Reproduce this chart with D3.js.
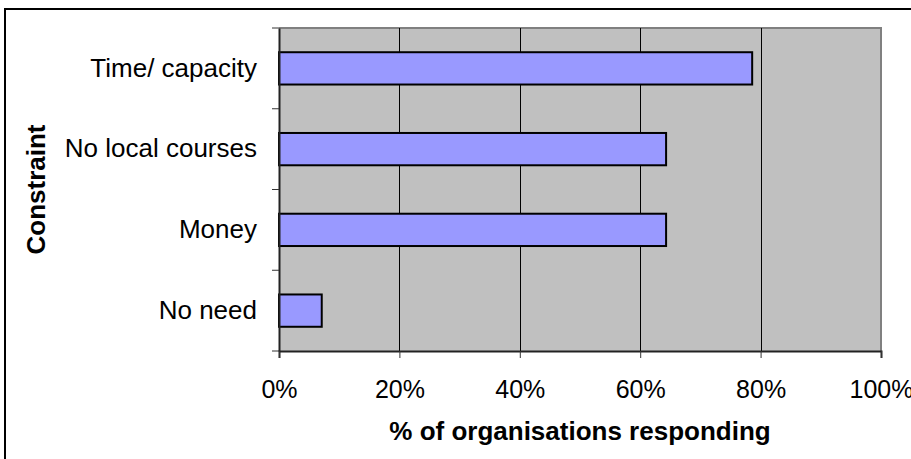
<!DOCTYPE html>
<html><head><meta charset="utf-8">
<script src="https://cdn.jsdelivr.net/npm/d3@7"></script>
<style>html,body{margin:0;padding:0;background:#fff;}svg{display:block;font-family:"Liberation Sans",Arial,sans-serif;}</style>
</head><body>
<script>
const categories = ["Time/ capacity", "No local courses", "Money", "No need"];
const values = [0.786, 0.643, 0.643, 0.071];
const xTicks = [0, 0.2, 0.4, 0.6, 0.8, 1.0];
const xTitle = "% of organisations responding";
const yTitle = "Constraint";

const W = 911, H = 459;
const plot = {l: 279, t: 28, r: 881, b: 351};
const svg = d3.select("body").append("svg").attr("width", W).attr("height", H);

// outer frame (extends beyond right/bottom edges)
svg.append("rect").attr("x", 5).attr("y", 9).attr("width", 920).attr("height", 470)
  .attr("fill", "#fff").attr("stroke", "#000").attr("stroke-width", 2);

const x = d3.scaleLinear().domain([0, 1]).range([plot.l, plot.r]);
const y = d3.scaleBand().domain(categories).range([plot.t, plot.b]).padding(0);

svg.append("rect").attr("x", plot.l).attr("y", plot.t).attr("width", plot.r - plot.l).attr("height", plot.b - plot.t)
  .attr("fill", "#C0C0C0");
// border top/right grey
svg.append("path").attr("d", `M${plot.l},${plot.t}H${plot.r}V${plot.b}`).attr("fill", "none").attr("stroke", "#808080").attr("stroke-width", 2);

// gridlines
svg.append("g").selectAll("line").data(xTicks.slice(1, -1)).join("line")
  .attr("x1", d => Math.round(x(d)) + 0.5).attr("x2", d => Math.round(x(d)) + 0.5)
  .attr("y1", plot.t).attr("y2", plot.b).attr("stroke", "#000").attr("stroke-width", 1);

// bars
const bw = y.bandwidth();
svg.append("g").selectAll("rect").data(categories).join("rect")
  .attr("x", plot.l).attr("y", (d) => y(d) + bw * 0.3)
  .attr("width", (d, i) => x(values[i]) - plot.l).attr("height", bw * 0.4)
  .attr("fill", "#9999FF").attr("stroke", "#000").attr("stroke-width", 2);

// x axis
const xAxis = d3.axisBottom(x).tickValues(xTicks).tickFormat(d3.format(".0%")).tickSize(7).tickPadding(22);
const gx = svg.append("g").attr("transform", `translate(0,${plot.b})`).call(xAxis);
gx.select(".domain").attr("stroke", "#222").attr("stroke-width", 2);
gx.selectAll(".tick line").attr("stroke", "#333");
gx.selectAll("text").attr("font-size", 25).attr("fill", "#000").attr("font-family", "Liberation Sans, Arial, sans-serif");

// y axis
const yAxis = d3.axisLeft(y).tickSize(0).tickPadding(22);
const gy = svg.append("g").attr("transform", `translate(${plot.l},0)`).call(yAxis);
gy.select(".domain").attr("stroke", "#222").attr("stroke-width", 2);
gy.selectAll("text").attr("font-size", 26).attr("fill", "#000").attr("font-family", "Liberation Sans, Arial, sans-serif");
// band boundary ticks
const bounds = categories.map(c => y(c)).concat([plot.b]);
svg.append("g").selectAll("line").data(bounds).join("line")
  .attr("x1", plot.l - 7).attr("x2", plot.l).attr("y1", d => d).attr("y2", d => d)
  .attr("stroke", "#333").attr("stroke-width", 1);

// titles
svg.append("text").attr("x", (plot.l + plot.r) / 2).attr("y", 440).attr("text-anchor", "middle")
  .attr("font-size", 26).attr("font-weight", "bold").text(xTitle);
svg.append("text").attr("transform", `translate(45,${(plot.t + plot.b) / 2}) rotate(-90)`).attr("text-anchor", "middle")
  .attr("font-size", 26).attr("font-weight", "bold").text(yTitle);
</script>
</body></html>
